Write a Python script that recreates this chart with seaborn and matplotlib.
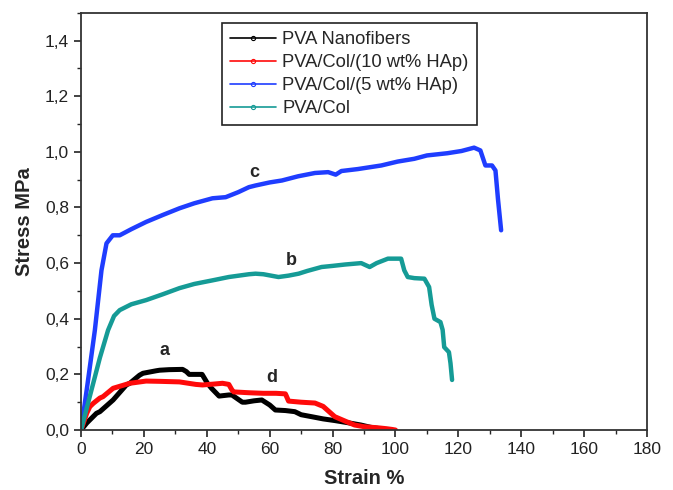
import matplotlib
matplotlib.use("Agg")
import matplotlib.pyplot as plt
from matplotlib.lines import Line2D
from matplotlib.ticker import MultipleLocator, FuncFormatter
import seaborn as sns
import pandas as pd

# Tensile test curves (strain %, stress MPa)
strain_pva = [0, 1.8, 4.9, 6, 10.2, 14.4, 15.5, 18.6, 19.7, 23.9, 25, 28, 32.3, 33.5, 34.4,
              37.6, 38.5, 40.2, 41.5, 43.9, 47, 48, 51.3, 52.3, 55, 57.5, 60, 61.8, 65,
              68, 70, 73.3, 77, 80.7, 85, 89, 92, 95.4, 97]
stress_pva = [0, 0.025, 0.06, 0.066, 0.108, 0.162, 0.168, 0.197, 0.204, 0.213, 0.215, 0.217,
              0.218, 0.21, 0.2, 0.2, 0.2, 0.168, 0.15, 0.122, 0.126, 0.126, 0.10, 0.10, 0.105,
              0.108, 0.09, 0.072, 0.07, 0.066, 0.055, 0.048, 0.04, 0.034, 0.026, 0.018, 0.01,
              0.004, 0.0]

strain_hap10 = [0, 1.8, 2.8, 3.9, 6, 7, 10.2, 15.5, 20.7, 25, 31.3, 36.5, 38.6, 42, 45, 47,
                48, 48.6, 53.4, 58, 62, 65, 66, 70, 74.4, 77, 80.7, 84, 87, 90, 94.4, 97, 99, 100]
stress_hap10 = [0, 0.06, 0.084, 0.096, 0.115, 0.12, 0.15, 0.168, 0.176, 0.175, 0.173, 0.164,
                0.162, 0.165, 0.168, 0.164, 0.144, 0.137, 0.134, 0.132, 0.132, 0.13, 0.104,
                0.1, 0.097, 0.085, 0.048, 0.032, 0.018, 0.012, 0.008, 0.005, 0.002, 0.0]

strain_hap5 = [0, 2, 4.4, 6.5, 8.1, 10.1, 12.3, 16, 20.7, 26, 31.3, 36, 41.8, 46, 50, 53.4,
               55.5, 60, 63.9, 69, 74.4, 78.6, 81, 82.8, 88, 95.5, 100.7, 106, 110, 116.5,
               121, 125, 127, 128.6, 130.7, 131.8, 132.6, 133.6]
stress_hap5 = [0, 0.16, 0.359, 0.574, 0.671, 0.70, 0.70, 0.722, 0.748, 0.773, 0.797, 0.815,
               0.833, 0.837, 0.855, 0.873, 0.879, 0.89, 0.897, 0.912, 0.924, 0.927, 0.918,
               0.931, 0.938, 0.951, 0.965, 0.975, 0.987, 0.995, 1.003, 1.015, 1.005, 0.951,
               0.951, 0.933, 0.83, 0.718]

strain_col = [0, 3, 6, 8.6, 10.5, 12.3, 16, 20.7, 26, 31.3, 36, 41.8, 47, 53.4, 55.5, 58,
              62.8, 66, 69.2, 72, 76.5, 80, 84, 89.1, 91.8, 94, 97.6, 101.8, 102.8, 103.9,
              106, 109.2, 110.7, 111.5, 112.4, 114.3, 115, 115.5, 117, 117.5, 118]
stress_col = [0, 0.13, 0.26, 0.359, 0.41, 0.431, 0.452, 0.467, 0.488, 0.51, 0.525, 0.538,
              0.55, 0.56, 0.562, 0.56, 0.55, 0.555, 0.562, 0.572, 0.586, 0.59, 0.595, 0.60,
              0.586, 0.60, 0.616, 0.616, 0.574, 0.55, 0.546, 0.544, 0.514, 0.45, 0.40, 0.388,
              0.36, 0.298, 0.28, 0.24, 0.18]

labels = ["PVA Nanofibers", "PVA/Col/(10 wt% HAp)", "PVA/Col/(5 wt% HAp)", "PVA/Col"]
colors = ["#000000", "#ff0a0a", "#1f3dff", "#159b96"]
curve_tags = ["a", "d", "c", "b"]
tag_pos = [(26.5, 0.285), (60.5, 0.19), (55, 0.925), (67, 0.61)]

x_ticks = [0, 20, 40, 60, 80, 100, 120, 140, 160, 180]
y_ticks = [0.0, 0.2, 0.4, 0.6, 0.8, 1.0, 1.2, 1.4]

frames = []
for name, xs, ys in zip(labels,
                        [strain_pva, strain_hap10, strain_hap5, strain_col],
                        [stress_pva, stress_hap10, stress_hap5, stress_col]):
    frames.append(pd.DataFrame({"strain": xs, "stress": ys, "sample": name}))
df = pd.concat(frames, ignore_index=True)

sns.set_style("ticks")
plt.rcParams["font.family"] = ["Liberation Sans", "DejaVu Sans"]

fig = plt.figure(figsize=(6.73, 4.90), dpi=100)
ax = fig.add_axes([0.1204, 0.1224, 0.8410, 0.8516])

widths = [3.6, 3.6, 3.2, 3.2]
for name, col, lw in zip(labels, colors, widths):
    sub = df[df["sample"] == name]
    sns.lineplot(data=sub, x="strain", y="stress", sort=False, color=col,
                 linewidth=lw, ax=ax, legend=False, estimator=None)

for tag, (tx, ty) in zip(curve_tags, tag_pos):
    ax.text(tx, ty, tag, fontsize=13, fontweight="bold", ha="center", va="center")

ax.set_xlim(0, 180)
ax.set_ylim(0, 1.5)
ax.set_xticks(x_ticks)
ax.set_yticks(y_ticks)
ax.xaxis.set_minor_locator(MultipleLocator(10))
ax.yaxis.set_minor_locator(MultipleLocator(0.1))
ax.xaxis.set_major_formatter(FuncFormatter(lambda v, p: f"{v:.0f}"))
ax.yaxis.set_major_formatter(FuncFormatter(lambda v, p: f"{v:.1f}".replace(".", ",")))
ax.tick_params(axis="both", which="major", direction="out", length=5, width=1.2,
               labelsize=12.5, colors="#222222", top=False, right=False)
ax.tick_params(axis="both", which="minor", direction="out", length=3, width=1.0,
               top=False, right=False)
for s in ax.spines.values():
    s.set_visible(True)
    s.set_color("#333333")
    s.set_linewidth(1.3)

ax.set_xlabel("Strain %", fontsize=14.5, fontweight="bold", labelpad=9)
ax.set_ylabel("Stress MPa", fontsize=14.5, fontweight="bold", labelpad=8)

handles = [Line2D([0], [0], color=c, linewidth=1.2, marker="o", markersize=3,
                  markerfacecolor="none", markeredgecolor=c, markeredgewidth=0.8)
           for c in colors]
leg = ax.legend(handles, labels, loc="upper left", bbox_to_anchor=(0.249, 0.975),
                fontsize=13.2, numpoints=1, handlelength=2.5, handletextpad=0.35,
                labelspacing=0.32, borderpad=0.45, borderaxespad=0, frameon=True,
                fancybox=False, framealpha=1)
leg.get_frame().set_edgecolor("#222222")
leg.get_frame().set_linewidth(1.2)

fig.savefig("out.png", dpi=100)
